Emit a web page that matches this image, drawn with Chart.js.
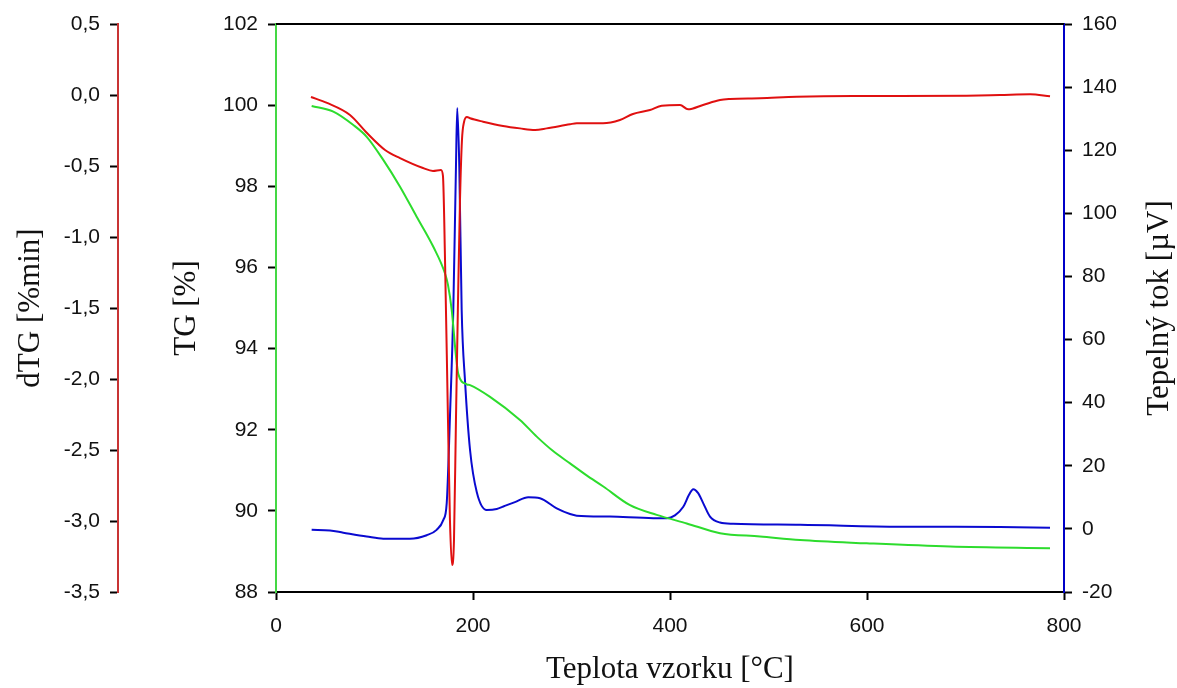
<!DOCTYPE html>
<html>
<head>
<meta charset="utf-8">
<script src="https://cdn.jsdelivr.net/npm/chart.js@4.4.1/dist/chart.umd.min.js"></script>
<style>
  body { margin: 0; background: #fff; }
  #wrap { width: 1177px; height: 688px; }
</style>
</head>
<body>
<div id="wrap"><canvas id="chart" width="1177" height="688"></canvas></div>
<script>
// dTG curve (red)
const dtgTemp = [35.5, 51.8, 75.1, 92.4, 110.7, 125.9, 149.2, 159.4, 167.5, 169.5, 171.6, 174.6, 176.6, 178.7, 180.7, 182.7, 184.8, 186.8, 188.8, 190.9, 193.9, 197, 210.2, 230.5, 247.7, 263, 274.8, 298.5, 305.3, 332, 349.2, 362.4, 379.7, 391.6, 410.2, 418.3, 433.5, 450.8, 460.9, 491.4, 528.6, 585.8, 633.5, 701.2, 735, 765.5, 785.8];
const dtgValues = [-0.014, -0.056, -0.141, -0.268, -0.387, -0.444, -0.514, -0.535, -0.528, -0.570, -1.162, -2.289, -2.993, -3.31, -3.134, -2.289, -1.444, -0.739, -0.317, -0.190, -0.155, -0.164, -0.188, -0.218, -0.235, -0.246, -0.235, -0.206, -0.199, -0.199, -0.176, -0.134, -0.106, -0.075, -0.070, -0.101, -0.070, -0.035, -0.028, -0.023, -0.012, -0.007, -0.007, -0.005, 0.0, 0.005, -0.009];

// TG curve (green)
const tgTemp = [36.2, 58.2, 78.5, 92.1, 108.9, 125.9, 142.8, 159.7, 171.6, 174.6, 178.4, 182.7, 185.1, 193.6, 197, 217.3, 247.7, 264.7, 281, 298.5, 315, 332.3, 359.4, 386.5, 417, 450.8, 491.4, 532, 599.7, 684.3, 785.8];
const tgValues = [99.98, 99.84, 99.51, 99.22, 98.65, 97.99, 97.25, 96.51, 95.85, 95.57, 94.95, 93.82, 93.37, 93.12, 93.10, 92.81, 92.24, 91.83, 91.48, 91.17, 90.88, 90.6, 90.14, 89.9, 89.69, 89.45, 89.37, 89.28, 89.2, 89.12, 89.08];

// heat flow (blue)
const heatTemp = [36.2, 54.8, 68.3, 92.1, 108.9, 136, 153, 163.1, 169.8, 173.3, 176.6, 180, 182.7, 184, 186.1, 188.5, 191.9, 197, 203.8, 213.9, 224.1, 230.8, 242.6, 256.1, 268, 285, 298.5, 305.3, 339.1, 383, 396.6, 405, 413.5, 419.3, 423.6, 428.4, 433.8, 440.6, 450.8, 464, 532, 633.5, 735, 785.8];
const heatValues = [-0.3, -0.5, -1.2, -2.4, -3.1, -3.1, -2.0, -0.3, 2.8, 8.1, 35.5, 69.4, 114.7, 133.4, 114.7, 69.4, 46.9, 25, 11.7, 6.0, 6.3, 7.1, 8.5, 10.0, 9.7, 6.5, 4.7, 4.2, 3.9, 3.4, 3.4, 4.3, 7.0, 10.8, 12.6, 11.4, 8.1, 3.9, 2.0, 1.6, 1.3, 0.7, 0.6, 0.4];

const xTitle = 'Teplota vzorku [°C]';
const dtgTitle = 'dTG [%min]';
const tgTitle = 'TG [%]';
const heatTitle = 'Tepelný tok [µV]';

const pts = (xs, ys) => xs.map((x, i) => ({ x, y: ys[i] }));

const TICK_FONT = { family: 'Liberation Sans', size: 21 };
const TITLE_FONT = { family: 'Liberation Serif', size: 31 };

const frame = {
  id: 'frame',
  afterDraw(chart) {
    const { ctx, chartArea: a } = chart;
    ctx.save();
    ctx.strokeStyle = '#000';
    ctx.lineWidth = 2;
    ctx.beginPath();
    ctx.moveTo(a.left, a.top);
    ctx.lineTo(a.right, a.top);
    ctx.stroke();
    // right title reads bottom to top
    ctx.fillStyle = '#111';
    ctx.font = '31px "Liberation Serif"';
    ctx.textAlign = 'center';
    ctx.textBaseline = 'middle';
    ctx.translate(1160, (a.top + a.bottom) / 2);
    ctx.rotate(-Math.PI / 2);
    ctx.fillText(heatTitle, 0, 0);
    ctx.restore();
  },
};

function yAxis(pos, min, max, step, color, weight, width, title, pad) {
  return {
    type: 'linear',
    position: pos,
    min, max,
    weight,
    afterFit: s => { s.width = width; },
    border: { color, width: 2 },
    grid: { drawOnChartArea: false, tickLength: 8, tickColor: '#000', tickWidth: 2 },
    ticks: {
      stepSize: step,
      padding: 10,
      color: '#111',
      font: TICK_FONT,
      callback: v => step < 1 ? v.toFixed(1).replace('.', ',') : v,
    },
    title: title ? { display: true, text: title, color: '#111', font: TITLE_FONT, padding: { top: pad, bottom: 0 } } : { display: false },
  };
}

new Chart(document.getElementById('chart'), {
  type: 'line',
  data: {
    datasets: [
      { label: 'dTG', data: pts(dtgTemp, dtgValues), yAxisID: 'yDtg', borderColor: '#e01010', borderWidth: 2, pointRadius: 0, cubicInterpolationMode: 'monotone' },
      { label: 'TG', data: pts(tgTemp, tgValues), yAxisID: 'yTg', borderColor: '#2ddc2d', borderWidth: 2, pointRadius: 0, cubicInterpolationMode: 'monotone' },
      { label: 'Tepelný tok', data: pts(heatTemp, heatValues), yAxisID: 'yHeat', borderColor: '#0a0ad0', borderWidth: 2, pointRadius: 0, cubicInterpolationMode: 'monotone' },
    ],
  },
  options: {
    responsive: false,
    animation: false,
    layout: { padding: { top: 24, left: 0, right: 0, bottom: 0 } },
    plugins: { legend: { display: false }, tooltip: { enabled: false } },
    scales: {
      x: {
        type: 'linear',
        position: 'bottom',
        min: 0, max: 800,
        afterFit: s => { s.height = 96; },
        border: { color: '#000', width: 2 },
        grid: { drawOnChartArea: false, tickLength: 8, tickColor: '#000', tickWidth: 2 },
        ticks: { stepSize: 200, padding: 14, color: '#111', font: TICK_FONT, maxRotation: 0 },
        title: { display: true, text: xTitle, color: '#111', font: TITLE_FONT, padding: { top: 0, bottom: 0 } },
      },
      yTg: yAxis('left', 88, 102, 2, '#44d844', 0, 158, tgTitle, 50),
      yDtg: yAxis('left', -3.5, 0.5, 0.5, '#c83434', 10, 118, dtgTitle, 12),
      yHeat: yAxis('right', -20, 160, 20, '#0000c8', 0, 113, null, 0),
    },
  },
  plugins: [frame],
});
</script>
</body>
</html>
